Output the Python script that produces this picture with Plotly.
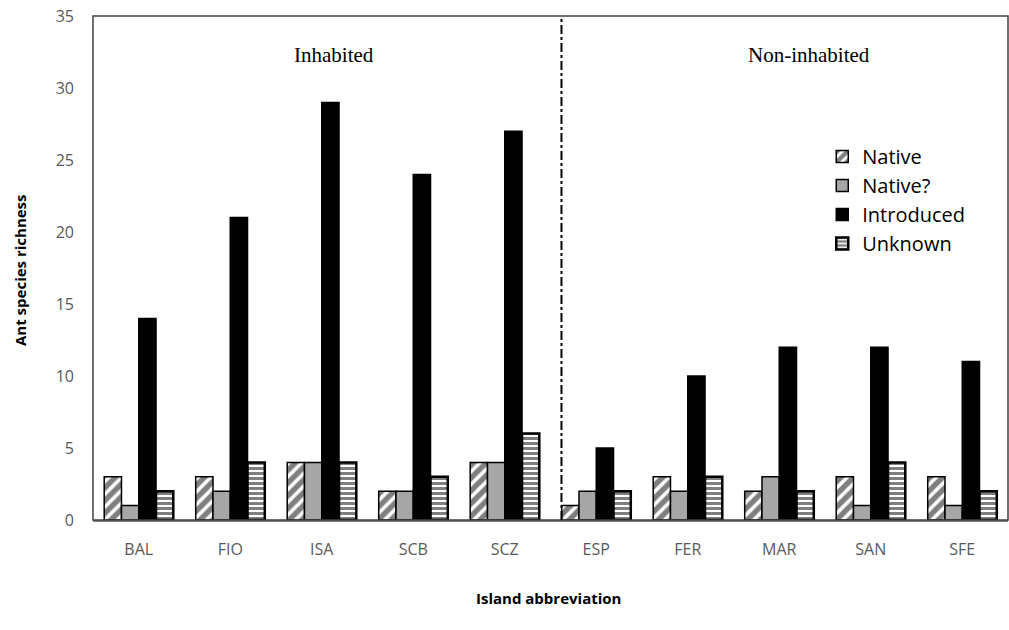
import plotly.graph_objects as go

islands = ["BAL", "FIO", "ISA", "SCB", "SCZ", "ESP", "FER", "MAR", "SAN", "SFE"]
native = [3, 3, 4, 2, 4, 1, 3, 2, 3, 3]
native_q = [1, 2, 4, 2, 4, 2, 2, 3, 1, 1]
introduced = [14, 21, 29, 24, 27, 5, 10, 12, 12, 11]
unknown = [2, 4, 4, 3, 6, 2, 3, 2, 4, 2]
y_ticks = [0, 5, 10, 15, 20, 25, 30, 35]

fig = go.Figure()
fig.add_trace(go.Bar(
    x=islands, y=native, name="Native",
    marker=dict(color="white", line=dict(color="black", width=1.5),
                pattern=dict(shape="/", fgcolor="black", bgcolor="white", size=9, solidity=0.6)),
))
fig.add_trace(go.Bar(
    x=islands, y=native_q, name="Native?",
    marker=dict(color="#a6a6a6", line=dict(color="black", width=1.5)),
))
fig.add_trace(go.Bar(
    x=islands, y=introduced, name="Introduced",
    marker=dict(color="black", line=dict(color="black", width=1.5)),
))
fig.add_trace(go.Bar(
    x=islands, y=unknown, name="Unknown",
    marker=dict(color="white", line=dict(color="black", width=2.5),
                pattern=dict(shape="-", fgcolor="black", bgcolor="white", size=5, solidity=0.6)),
))

tick_font = dict(family="Open Sans, sans-serif", size=16, color="#595959")
title_font = dict(family="Open Sans, sans-serif", size=15, color="black")

fig.update_layout(
    width=1009, height=630,
    margin=dict(l=93, r=1, t=16, b=110, autoexpand=False),
    paper_bgcolor="white", plot_bgcolor="white",
    barmode="group", bargap=0.245, bargroupgap=0,
    showlegend=True,
    legend=dict(x=0.797, y=0.76, xanchor="left", yanchor="top",
                font=dict(family="Open Sans, sans-serif", size=20, color="black"),
                bgcolor="rgba(0,0,0,0)", tracegroupgap=0, itemwidth=30),
    xaxis=dict(
        tickfont=tick_font, showgrid=False, ticks="", ticklabelstandoff=14,
        showline=True, linecolor="#7f7f7f", linewidth=1.5, automargin=False,
    ),
    yaxis=dict(
        range=[0, 35], tickvals=y_ticks, tickfont=tick_font, showgrid=False,
        ticks="", ticklabelstandoff=18, zeroline=False, automargin=False,
    ),
)

# plot area frame
fig.add_shape(type="rect", xref="paper", yref="paper", x0=0, x1=1, y0=0, y1=1,
              line=dict(color="#404040", width=1.5), layer="above")
# separator between inhabited and non-inhabited
fig.add_shape(type="line", xref="x", yref="paper", x0=4.62, x1=4.62, y0=0, y1=1,
              line=dict(color="black", width=2, dash="dashdot"))

fig.add_annotation(x=2.13, y=32.3, xref="x", yref="y", text="Inhabited", showarrow=False,
                   font=dict(family="Liberation Serif, serif", size=21, color="black"))
fig.add_annotation(x=7.32, y=32.3, xref="x", yref="y", text="Non-inhabited", showarrow=False,
                   font=dict(family="Liberation Serif, serif", size=21, color="black"))

# axis titles (pixel positions converted to paper coords)
fig.add_annotation(x=(20 - 93) / 915, y=(520 - 270) / 504, xref="paper", yref="paper",
                   text="<b>Ant species richness</b>", showarrow=False, textangle=-90,
                   xanchor="center", yanchor="middle", font=title_font)
fig.add_annotation(x=(548 - 93) / 915, y=(520 - 598) / 504, xref="paper", yref="paper",
                   text="<b>Island abbreviation</b>", showarrow=False,
                   xanchor="center", yanchor="middle", font=title_font)

fig.write_html("out.html", config={"displayModeBar": False},
               post_script="document.body.style.margin='0';document.body.style.overflow='hidden';")
